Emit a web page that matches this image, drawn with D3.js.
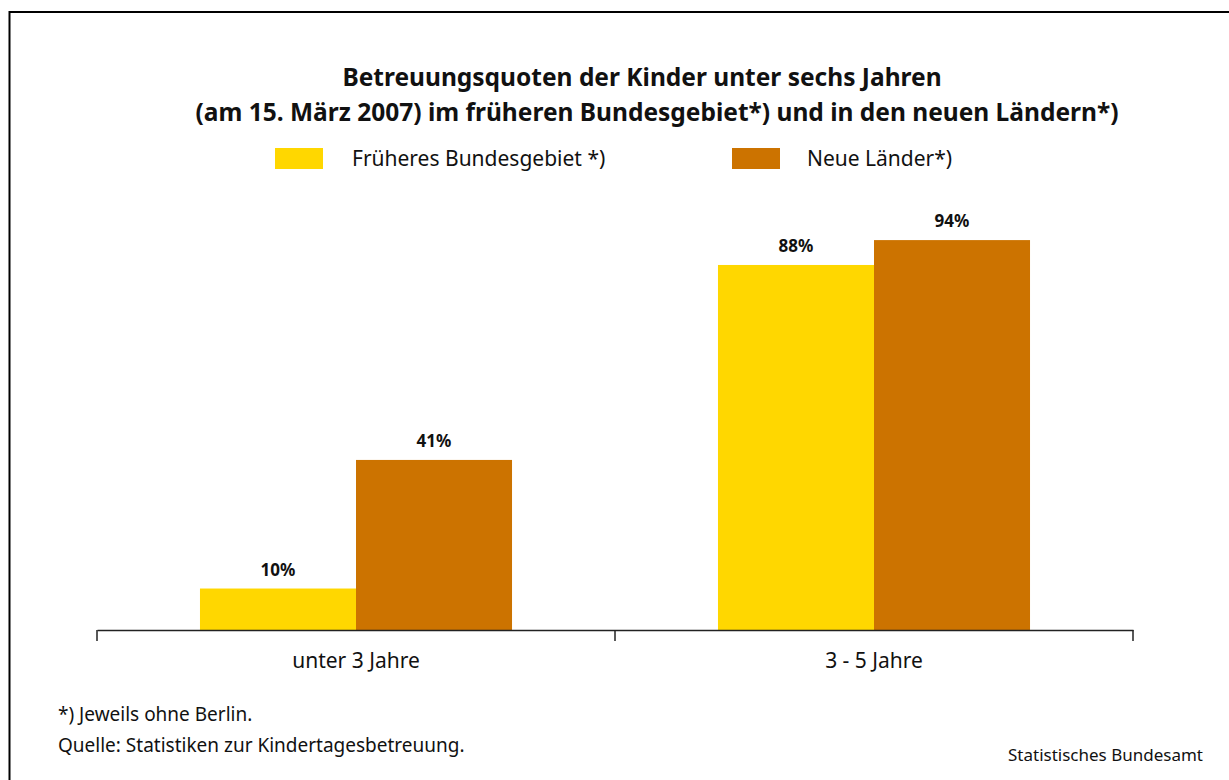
<!DOCTYPE html>
<html>
<head>
<meta charset="utf-8">
<script src="https://cdn.jsdelivr.net/npm/d3@7"></script>
<style>
  html, body { margin: 0; padding: 0; background: #fff; }
  svg { display: block; font-family: "Noto Sans", "Open Sans", sans-serif; }
</style>
</head>
<body>
<svg id="chart" width="1229" height="780"></svg>
<script>
const categories = ['unter 3 Jahre', '3 - 5 Jahre'];
const series = ['Früheres Bundesgebiet *)', 'Neue Länder*)'];
const westValues = [10, 88];
const eastValues = [41, 94];
const colors = ['#FFD700', '#CC7300'];
const titleLines = [
  'Betreuungsquoten der Kinder unter sechs Jahren',
  '(am 15. März 2007) im früheren Bundesgebiet*) und in den neuen Ländern*)'
];
const notes = ['*) Jeweils ohne Berlin.', 'Quelle: Statistiken zur Kindertagesbetreuung.'];

const svg = d3.select('#chart');

// frame
svg.append('rect').attr('x', 9.5).attr('y', 12).attr('width', 1230).attr('height', 780)
  .attr('fill', 'none').attr('stroke', '#000').attr('stroke-width', 2);

// title
svg.append('text').attr('x', 642).attr('y', 86).attr('text-anchor', 'middle')
  .attr('font-size', 24.5).attr('font-weight', 'bold').attr('fill', '#111').text(titleLines[0]);
svg.append('text').attr('x', 657).attr('y', 121).attr('text-anchor', 'middle')
  .attr('font-size', 24.5).attr('font-weight', 'bold').attr('fill', '#111').text(titleLines[1]);

// legend
const legendX = [275, 732];
series.forEach((s, i) => {
  svg.append('rect').attr('x', legendX[i]).attr('y', 148).attr('width', 48).attr('height', 21).attr('fill', colors[i]);
  svg.append('text').attr('x', legendX[i] + 77 - i * 2).attr('y', 166).attr('font-size', 21).attr('fill', '#111').text(s);
});

// scales
const x = d3.scaleBand().domain(categories).range([97, 1133]).padding(0);
const xs = d3.scaleBand().domain(series).range([0, x.bandwidth()]).paddingInner(0).paddingOuter(0.66);
const y = d3.scaleLinear().domain([0, 100]).range([630, 215.2]);

const rows = categories.map((c, i) => ({ cat: c, vals: [westValues[i], eastValues[i]] }));

const groups = svg.append('g').selectAll('g').data(rows).join('g')
  .attr('transform', d => `translate(${x(d.cat)},0)`);

groups.selectAll('rect').data(d => d.vals.map((v, j) => ({ s: series[j], v, j }))).join('rect')
  .attr('x', d => xs(d.s)).attr('y', d => y(d.v))
  .attr('width', xs.bandwidth()).attr('height', d => y(0) - y(d.v))
  .attr('fill', d => colors[d.j]);

groups.selectAll('text').data(d => d.vals.map((v, j) => ({ s: series[j], v, j }))).join('text')
  .attr('x', d => xs(d.s) + xs.bandwidth() / 2).attr('y', d => y(d.v) - 13)
  .attr('text-anchor', 'middle').attr('font-size', 17).attr('font-weight', 'bold').attr('fill', '#111')
  .text(d => d.v + '%');

// axis
const axis = svg.append('g').attr('transform', `translate(0,${y(0)})`)
  .call(d3.axisBottom(x).tickSize(0).tickPadding(23));
axis.select('.domain').attr('stroke', '#222').attr('stroke-width', 1.5);
axis.selectAll('text').attr('font-size', 21).attr('fill', '#111').attr('font-family', '"Noto Sans", sans-serif');
const bounds = categories.map(c => x(c)).concat([x.range()[1]]);
axis.selectAll('line.sep').data(bounds).join('line').attr('class', 'sep')
  .attr('x1', d => d).attr('x2', d => d).attr('y1', 0).attr('y2', 11)
  .attr('stroke', '#222').attr('stroke-width', 1.5);

// notes
notes.forEach((n, i) => {
  svg.append('text').attr('x', 58).attr('y', 721 + i * 31).attr('font-size', 19).attr('fill', '#111').text(n);
});
svg.append('text').attr('x', 1203).attr('y', 761).attr('text-anchor', 'end')
  .attr('font-size', 17).attr('fill', '#111').text('Statistisches Bundesamt');
</script>
</body>
</html>
